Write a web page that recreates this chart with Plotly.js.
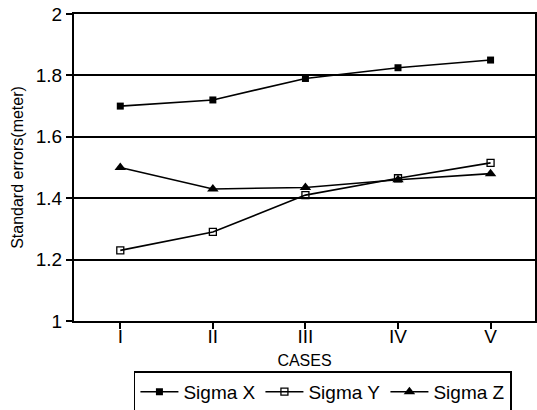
<!DOCTYPE html>
<html><head><meta charset="utf-8">
<script src="https://cdn.plot.ly/plotly-3.0.1.min.js"></script>
<style>html,body{margin:0;padding:0;background:#fff}#c{width:537px;height:410px}</style>
</head><body><div id="c"></div>
<script>
const cases = ["I", "II", "III", "IV", "V"];
const sigmaX = [1.70, 1.72, 1.79, 1.825, 1.85];
const sigmaY = [1.23, 1.29, 1.41, 1.465, 1.515];
const sigmaZ = [1.50, 1.43, 1.435, 1.46, 1.48];
const yTicks = [1, 1.2, 1.4, 1.6, 1.8, 2];
const yTickText = ["1", "1.2", "1.4", "1.6", "1.8", "2"];

const line = {color: "#000", width: 1.6};
const traces = [
  {x: cases, y: sigmaX, name: "Sigma X", mode: "lines+markers", line: line,
   marker: {symbol: "square", size: 7, color: "#000"}},
  {x: cases, y: sigmaY, name: "Sigma Y", mode: "lines+markers", line: line,
   marker: {symbol: "square-open", size: 7, color: "#000", line: {width: 1.3}}},
  {x: cases, y: sigmaZ, name: "Sigma Z", mode: "lines+markers", line: line,
   marker: {symbol: "triangle-up", size: 10, color: "#000"}}
];
const layout = {
  width: 537, height: 410,
  margin: {l: 74, r: 2, t: 14, b: 89, autoexpand: false},
  paper_bgcolor: "#fff", plot_bgcolor: "#fff",
  font: {family: "Liberation Sans, Arial, sans-serif", color: "#000"},
  showlegend: true,
  legend: {orientation: "h", x: 0.13, xanchor: "left", y: -0.164, yanchor: "top",
    bordercolor: "#000", borderwidth: 1.5, font: {size: 19}, itemwidth: 38,
    entrywidth: 72, entrywidthmode: "pixels", tracegroupgap: 0},
  xaxis: {type: "category", range: [-0.5, 4.48], showline: true, linecolor: "#000", linewidth: 2,
    mirror: true, ticks: "outside", ticklen: 6, tickwidth: 2, tickcolor: "#000",
    ticklabelstandoff: -9,
    showgrid: false, zeroline: false, tickfont: {size: 19},
    title: {text: "CASES", font: {size: 16}, standoff: 9}},
  yaxis: {range: [1, 2], tickvals: yTicks, ticktext: yTickText, showline: true, linecolor: "#000",
    linewidth: 2, mirror: true, ticks: "outside", ticklen: 6, tickwidth: 2, tickcolor: "#000",
    showgrid: true, gridcolor: "#000", gridwidth: 2, zeroline: false, tickfont: {size: 19},
    title: {text: "Standard errors(meter)", font: {size: 16}, standoff: 8}}
};
Plotly.newPlot("c", traces, layout, {staticPlot: true});
</script></body></html>
